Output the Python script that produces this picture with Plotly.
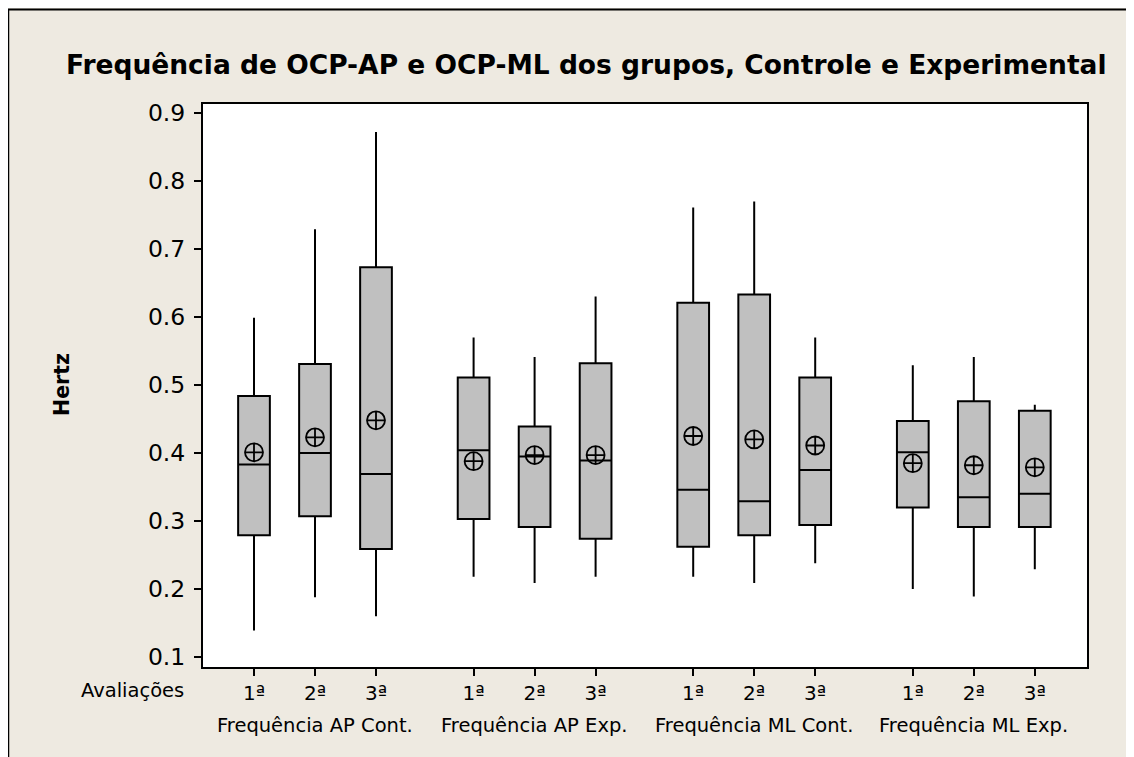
import plotly.graph_objects as go

# ---------------- data ----------------
groups = ["Frequência AP Cont.", "Frequência AP Exp.", "Frequência ML Cont.", "Frequência ML Exp."]
evaluations = ["1ª", "2ª", "3ª"]
y_ticks = [0.1, 0.2, 0.3, 0.4, 0.5, 0.6, 0.7, 0.8, 0.9]

# statistics, 3 evaluations per group, groups in order above
upper_whisker = [0.599, 0.729, 0.872, 0.570, 0.541, 0.630, 0.761, 0.770, 0.570, 0.529, 0.541, 0.471]
q3_values     = [0.484, 0.531, 0.673, 0.511, 0.439, 0.532, 0.621, 0.633, 0.511, 0.447, 0.476, 0.462]
median_values = [0.383, 0.400, 0.369, 0.404, 0.395, 0.389, 0.346, 0.329, 0.375, 0.401, 0.335, 0.340]
mean_values   = [0.401, 0.423, 0.448, 0.388, 0.397, 0.397, 0.425, 0.420, 0.411, 0.385, 0.382, 0.379]
q1_values     = [0.279, 0.307, 0.259, 0.303, 0.291, 0.274, 0.262, 0.279, 0.294, 0.320, 0.291, 0.291]
lower_whisker = [0.139, 0.188, 0.160, 0.218, 0.209, 0.218, 0.218, 0.209, 0.238, 0.200, 0.189, 0.229]

# ---------------- layout helpers (figure pixel coordinates) ----------------
FIG_W, FIG_H = 1134, 757
L, R, T, B = 195, 1079, 96, 659
PW, PH = R - L, B - T

def xp(px):
    return (px - L) / PW

def yp(py):
    return (B - py) / PH

GROUP_GAP = 3.6
positions = []
tick_text = []
for g in range(len(groups)):
    for e, ev in enumerate(evaluations):
        positions.append(1 + g * GROUP_GAP + e)
        tick_text.append(ev)
group_centers = [2 + g * GROUP_GAP for g in range(len(groups))]

BG = "#EEEAE1"
FONT = "DejaVu Sans"

fig = go.Figure()

fig.add_trace(go.Box(
    x=positions,
    q1=q1_values,
    median=median_values,
    q3=q3_values,
    lowerfence=lower_whisker,
    upperfence=upper_whisker,
    width=0.52,
    whiskerwidth=0,
    fillcolor="#C0C0C0",
    line=dict(color="black", width=2),
    boxpoints=False,
    showlegend=False,
    hoverinfo="skip",
))

fig.add_trace(go.Scatter(
    x=positions,
    y=mean_values,
    mode="markers",
    marker=dict(symbol="circle-cross-open", size=18, color="black",
                line=dict(width=1.8, color="black")),
    showlegend=False,
    hoverinfo="skip",
))

# x range: 61 px per unit, first tick at 246 px
unit = 61.0
first_px = 246
x0 = 1 - (first_px - L) / unit
x1 = 1 + (R - first_px) / unit
# y range: 680 px per unit, 0.1 at 649 px
yunit = 680.0
y0 = 0.1 - (B - 649) / yunit
y1 = y0 + PH / yunit

shapes = [
    dict(type="line", xref="paper", yref="paper", x0=xp(0), x1=xp(FIG_W + 5), y0=yp(1.5), y1=yp(1.5),
         line=dict(color="black", width=2), layer="below"),
    dict(type="line", xref="paper", yref="paper", x0=xp(0), x1=xp(0), y0=yp(1.5), y1=yp(FIG_H + 5),
         line=dict(color="black", width=2.5), layer="below"),
]

annotations = [
    dict(text="<b>Frequência de OCP-AP e OCP-ML dos grupos, Controle e Experimental</b>",
         xref="paper", yref="paper", x=xp(578), y=yp(56), xanchor="center", yanchor="middle",
         showarrow=False, font=dict(family=FONT, size=26.5, color="black")),
    dict(text="<b>Hertz</b>", xref="paper", yref="paper", x=xp(54), y=yp(377),
         xanchor="center", yanchor="middle", textangle=-90, showarrow=False,
         font=dict(family=FONT, size=20.5, color="black")),
    dict(text="Avaliações", xref="paper", yref="paper", x=xp(124), y=yp(682),
         xanchor="center", yanchor="middle", showarrow=False,
         font=dict(family=FONT, size=19.5, color="black")),
]
for gc, gname in zip(group_centers, groups):
    annotations.append(dict(text=gname, xref="x", yref="paper", x=gc, y=yp(717),
                            xanchor="center", yanchor="middle", showarrow=False,
                            font=dict(family=FONT, size=19.5, color="black")))

fig.update_layout(
    width=FIG_W, height=FIG_H, autosize=False,
    margin=dict(l=L, r=FIG_W - R, t=T, b=FIG_H - B, pad=0),
    paper_bgcolor=BG,
    plot_bgcolor="white",
    font=dict(family=FONT, color="black"),
    shapes=shapes,
    annotations=annotations,
    xaxis=dict(range=[x0, x1], tickvals=positions, ticktext=tick_text,
               ticks="outside", ticklen=7, tickwidth=1.5, tickcolor="black",
               showline=True, mirror=True, linecolor="black", linewidth=2,
               showgrid=False, zeroline=False, tickfont=dict(family=FONT, size=20)),
    yaxis=dict(range=[y0, y1], tickvals=y_ticks, ticktext=[f"{v:.1f}" for v in y_ticks],
               ticks="outside", ticklen=7, tickwidth=1.5, tickcolor="black",
               showline=True, mirror=True, linecolor="black", linewidth=2,
               ticklabelstandoff=4,
               showgrid=False, zeroline=False, tickfont=dict(family=FONT, size=23.5)),
)

fig.write_html("out.html", config={"displayModeBar": False})
